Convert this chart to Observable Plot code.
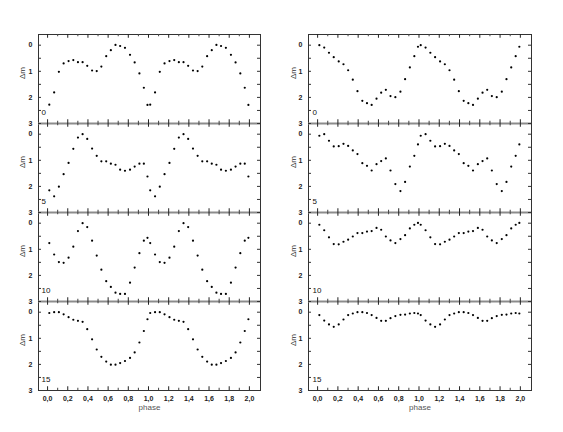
<!DOCTYPE html>
<html><head><meta charset="utf-8">
<script src="https://cdn.jsdelivr.net/npm/d3@7"></script>
<script src="https://cdn.jsdelivr.net/npm/@observablehq/plot@0.6"></script>
<style>
body{margin:0;background:#fff;}
#chart{position:relative;width:563px;height:432px;display:flex;}
</style></head><body><div id="chart"></div>
<script>
const panels = [0, 5, 10, 15];
const cycles = [0, 1];
const phase = [0.017,0.065,0.112,0.159,0.208,0.255,0.301,0.347,0.393,0.441,0.487,0.533,0.581,0.627,0.673,0.719,0.767,0.817,0.863,0.91,0.954,0.99];

const left0  = [2.28,1.81,1.02,0.70,0.61,0.57,0.65,0.65,0.79,0.97,0.99,0.82,0.42,0.19,-0.01,0.03,0.10,0.37,0.66,1.08,1.63,2.29];
const left5  = [2.15,2.38,2.01,1.53,1.10,0.56,0.13,0.00,0.18,0.55,0.83,1.04,1.04,1.13,1.17,1.36,1.40,1.36,1.24,1.13,1.13,1.62];
const left10 = [0.76,1.20,1.49,1.52,1.32,0.90,0.30,0.00,0.15,0.67,1.24,1.78,2.22,2.44,2.66,2.71,2.71,2.28,1.70,1.15,0.67,0.56];
const left15 = [0.03,0.00,0.00,0.08,0.19,0.29,0.33,0.37,0.65,1.04,1.43,1.71,1.89,2.01,2.01,1.95,1.87,1.75,1.54,1.16,0.72,0.27];

const right0  = [0.00,0.09,0.29,0.46,0.62,0.73,0.96,1.32,1.76,2.13,2.22,2.29,2.05,1.82,1.71,1.95,1.99,1.78,1.30,0.85,0.42,0.06];
const right5  = [0.06,0.00,0.25,0.47,0.46,0.37,0.45,0.62,0.76,1.11,1.21,1.39,1.15,1.03,0.93,1.39,1.91,2.18,1.83,1.24,0.83,0.39];
const right10 = [0.06,0.27,0.54,0.80,0.81,0.71,0.63,0.51,0.38,0.38,0.32,0.30,0.18,0.25,0.51,0.66,0.76,0.61,0.46,0.20,0.06,-0.01];
const right15 = [0.11,0.32,0.47,0.56,0.47,0.28,0.11,0.05,0.00,0.00,0.03,0.11,0.22,0.33,0.33,0.23,0.15,0.10,0.09,0.05,0.03,0.05];

const xMajor = [0.0,0.2,0.4,0.6,0.8,1.0,1.2,1.4,1.6,1.8,2.0];
const xMinor = [0.1,0.3,0.5,0.7,0.9,1.1,1.3,1.5,1.7,1.9];
const yLabels = [0, 1, 2, 3];
const yTicks = [0, 0.5, 1, 1.5, 2, 2.5, 3];
const xLabel = "phase";
const yLabel = "Δm";

const H = 432, MT = 33, MB = 42;
const bandH = (H - MT - MB) / panels.length;
const FONT = "'Liberation Sans', Arial, sans-serif";

function makeColumn(series, w, ml, mr, dxLabel, dxNum) {
  const rows = [];
  panels.forEach((p, k) => cycles.forEach(c => phase.forEach((ph, i) =>
    rows.push({panel: p, phase: ph + c, dm: series[k][i]}))));
  const frameW = w - ml - mr;
  return Plot.plot({
    width: w, height: H, marginLeft: ml, marginRight: mr, marginTop: MT, marginBottom: MB,
    style: {fontFamily: FONT, background: "transparent", overflow: "visible", color: "#222"},
    x: {domain: [-0.09, 2.11]},
    y: {domain: [-0.41, 3], reverse: true},
    fy: {domain: panels, padding: 0, axis: null},
    marks: [
      Plot.frame({stroke: "#333", strokeWidth: 1}),
      Plot.ruleY(panels.slice(0, 3), {y: () => 3, fy: d => d, stroke: "#8c8c8c", strokeWidth: 2}),
      Plot.tickX(xMajor, {x: d => d, insetTop: bandH - 4, stroke: "#222"}),
      Plot.tickX(xMajor, {x: d => d, insetBottom: bandH - 4, stroke: "#222"}),
      Plot.tickX(xMinor, {x: d => d, insetTop: bandH - 2.5, stroke: "#444"}),
      Plot.tickX(xMinor, {x: d => d, insetBottom: bandH - 2.5, stroke: "#444"}),
      Plot.tickY(yTicks, {y: d => d, insetRight: frameW - 3, stroke: "#333"}),
      Plot.tickY(yTicks, {y: d => d, insetLeft: frameW - 3, stroke: "#333"}),
      Plot.axisX(xMajor, {tickFormat: d => d.toFixed(1).replace(".", ","), tickSize: 0, tickPadding: 6, fontSize: 7, fontWeight: "bold", label: null}),
      Plot.axisY(yLabels, {tickSize: 0, tickPadding: 6, fontSize: 7, fontWeight: "bold", label: null}),
      Plot.text([yLabel], {frameAnchor: "left", dx: dxLabel, rotate: -90, fontSize: 8, fill: "#333"}),
      Plot.text(panels, {fy: d => d, text: d => String(d), frameAnchor: "bottom-left", dx: dxNum, dy: -9, textAnchor: "start", fontSize: 8, fill: "#111"}),
      Plot.text([xLabel], {fy: () => 15, frameAnchor: "bottom", dy: 19, fontSize: 8, fill: "#555"}),
      Plot.dot(rows, {x: "phase", y: "dm", fy: "panel", r: 1.1, fill: "#000", stroke: null})
    ]
  });
}

const chart = document.getElementById("chart");
chart.append(makeColumn([left0, left5, left10, left15], 282, 38, 22, -16, 3));
chart.append(makeColumn([right0, right5, right10, right15], 281, 26, 32, -15, 4));
</script></body></html>
